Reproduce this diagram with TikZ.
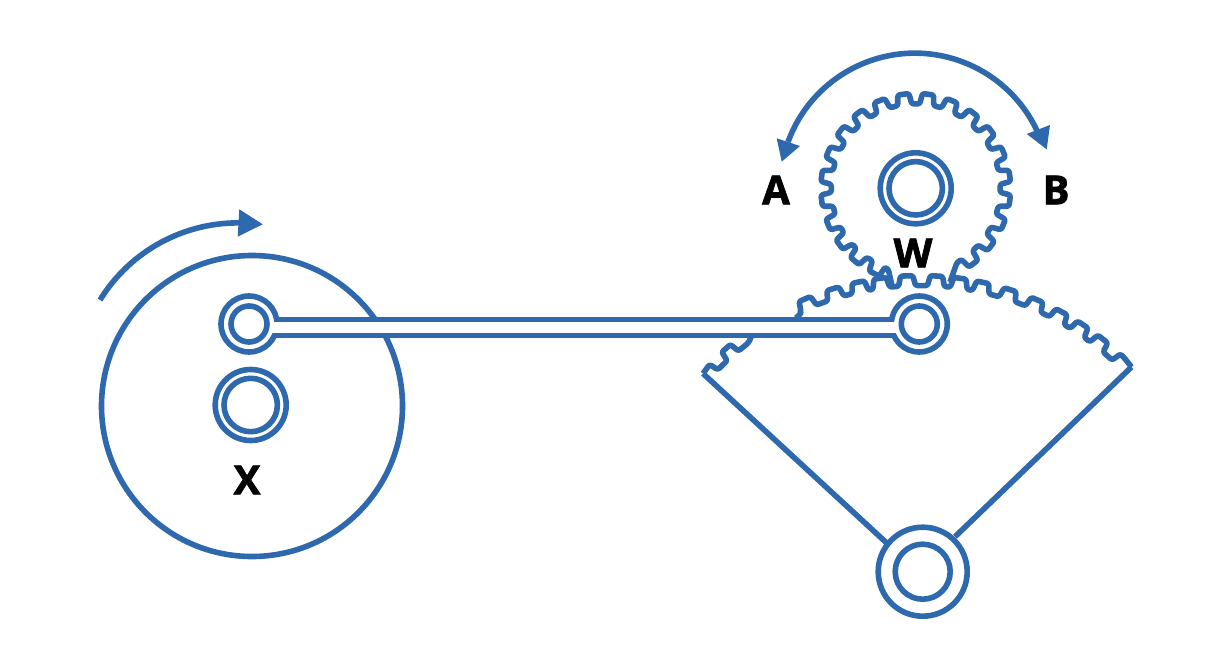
\documentclass[tikz,border=0pt]{standalone}
\usepackage{fontspec}
\setmainfont{Open Sans}[BoldFeatures={FakeBold=2}]
\definecolor{steel}{HTML}{2E69AE}
\tikzset{
  x=1pt,y=-1pt,
  part/.style={draw=steel,line width=5.6pt,line join=round},
  ring/.style={part,fill=white},
  toothed/.style={part,rounded corners=2.2pt},
  tip/.style={fill=steel,draw=none},
  letter/.style={font=\fontsize{40}{40}\selectfont\bfseries,text=black,inner sep=0pt}
}
\begin{document}
\begin{tikzpicture}
\useasboundingbox (0,0) rectangle (1218,666);
\coordinate (disc) at (252,406);
\coordinate (discpin) at (250.7,405);
\coordinate (linkL) at (249,324);
\coordinate (linkR) at (919.3,324);
\coordinate (gear) at (915.7,188.3);
\coordinate (pivot) at (922.7,571.7);
\coordinate (arcc) at (920,570.5);
\coordinate (gearA) at (892,286);
\coordinate (gearB) at (950,282);
\coordinate (secL) at (703,373.5);
\coordinate (secR) at (1131.5,367);
\coordinate (secLa) at (752,335);
\coordinate (secRa) at (796,318);
% sector
\draw[toothed] (secL) -- ([shift={(arcc)}]270-45.6:294.5) -- ([shift={(arcc)}]270-45.2:285)
  -- ([shift={(arcc)}]270-42.6:285) -- ([shift={(arcc)}]270-42.2:295) -- ([shift={(arcc)}]270-40:295)
  -- ([shift={(arcc)}]270-39.6:285) -- ([shift={(arcc)}]270-37:285) -- (secLa);
\draw[toothed] (secRa) -- ([shift={(arcc)}]270-25:283)
  \foreach \a in {-23,-17.2,-12.1,-7.8,-2.6,3.2,7.8,12.3,17.8,23.4,28.7,33.5,38.3}{
   -- ([shift={(arcc)}]270+\a-1.7:285) -- ([shift={(arcc)}]270+\a-1.2:295) -- ([shift={(arcc)}]270+\a+1.2:295) -- ([shift={(arcc)}]270+\a+1.7:285) }
   -- ([shift={(arcc)}]270+42.4:285) -- ([shift={(arcc)}]270+42.8:295) -- ([shift={(arcc)}]270+43.6:295) -- (secR);
\draw[part] (secL) -- (886.7,543);
\draw[part] (secR) -- (955,536.7);
% gear
\draw[toothed] (gearA) -- ([shift={(gear)}]108.5:86)
  \foreach \a in {116,130,143.5,157.5,172.5,187.5,202.5,217.5,232.5,247.5,262.5,277.5,292.5,307.5,322.5,337.5,352.5,367.5,382.5,397.5,412.5}{
   -- ([shift={(gear)}]\a-4.8:84.5) -- ([shift={(gear)}]\a-3.4:95) -- ([shift={(gear)}]\a+3.4:95) -- ([shift={(gear)}]\a+4.8:84.5) }
   -- ([shift={(gear)}]421:85) -- (gearB);
\draw[part] (gear) circle[radius=35.5];
\draw[part] (gear) circle[radius=26.7];
% disc
\draw[part] (disc) circle[radius=150.5];
\draw[part] (discpin) circle[radius=35.5];
\draw[part] (discpin) circle[radius=26.7];
% pivot of the sector
\draw[ring] (pivot) circle[radius=44.5];
\draw[ring] (pivot) circle[radius=27.5];
% link
\draw[ring] (linkL) circle[radius=28];
\draw[ring] (linkR) circle[radius=28];
\fill[white] (265,321.5) rectangle (905,333.1);
\draw[part,line join=miter] (275,319.3) -- (893.5,319.3);
\draw[part,line join=miter] (273,335.3) -- (895,335.3);
\draw[ring] (linkL) circle[radius=18];
\draw[ring] (linkR) circle[radius=18];
% arrows
\draw[part] (100,300) arc[start angle=211.6,end angle=272,radius=162];
\fill[tip] (239.3,209.3) -- (262.7,224.3) -- (237.7,236.7) -- cycle;
\draw[part] (788,142) arc[start angle=200,end angle=335,radius=135];
\fill[tip] (776.7,138.3) -- (800,146) -- (781.7,161.7) -- cycle;
\fill[tip] (1050,125) -- (1026.7,134) -- (1046.7,149.3) -- cycle;
% letters
\node[letter] (lA) at (776,190) {A};
\node[letter] (lB) at (1056,190) {B};
\node[letter] (lW) at (913,253) {W};
\node[letter] (lX) at (247,480) {X};
\end{tikzpicture}
\end{document}
